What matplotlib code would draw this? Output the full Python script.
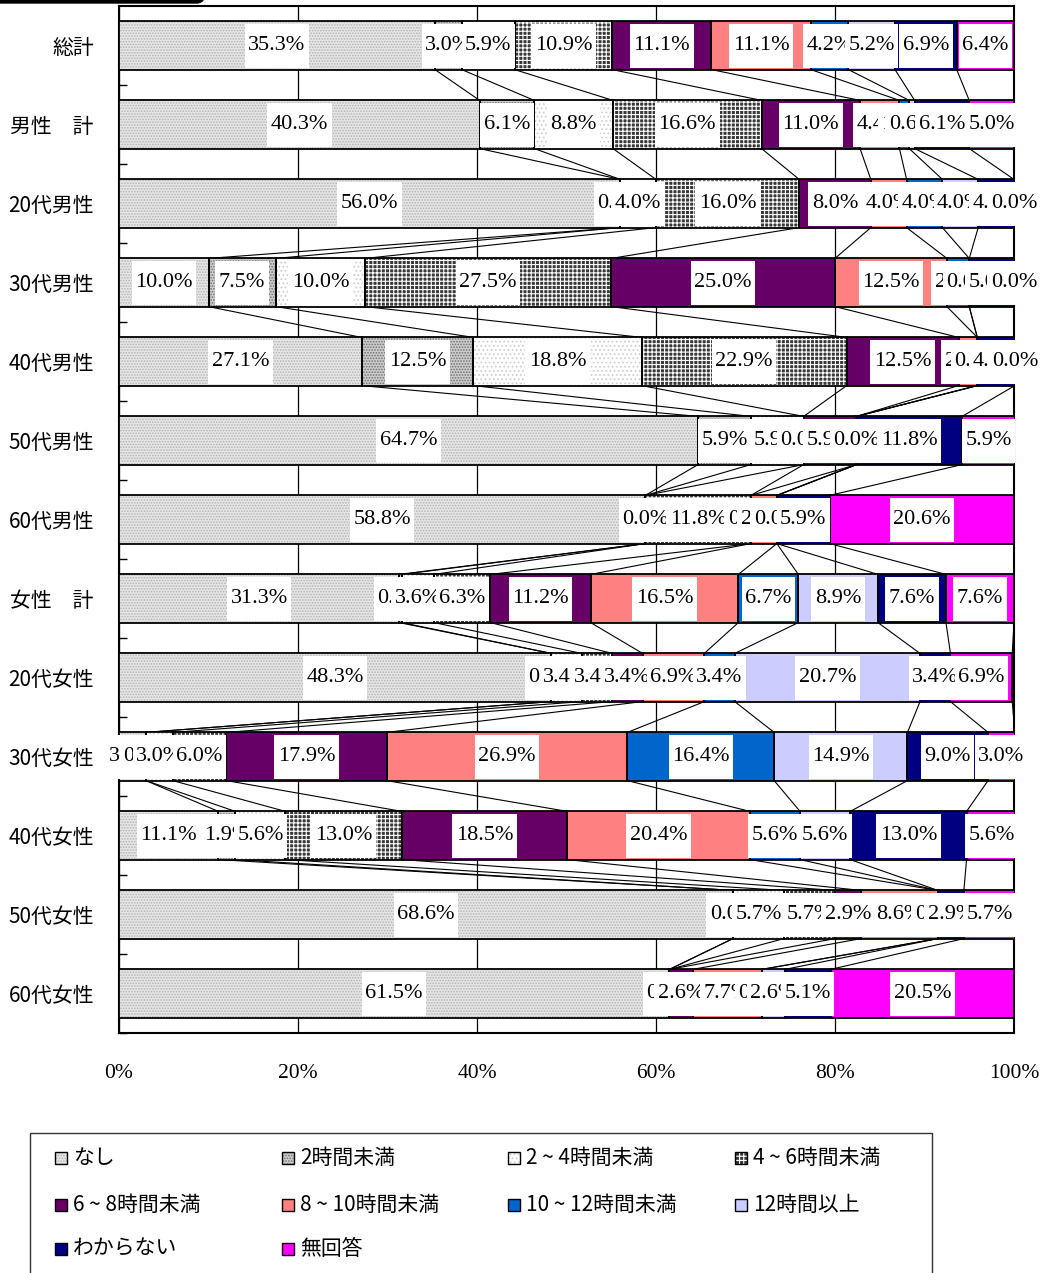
import matplotlib
matplotlib.use("Agg")
import matplotlib.pyplot as plt
import numpy as np
from matplotlib.patches import Rectangle, FancyBboxPatch

# categories (rows, top to bottom)
groups = ["総計", "男性\u3000計", "20代男性", "30代男性", "40代男性", "50代男性", "60代男性",
          "女性\u3000計", "20代女性", "30代女性", "40代女性", "50代女性", "60代女性"]

series_names = ["なし", "2時間未満", "2 ~ 4時間未満", "4 ~ 6時間未満", "6 ~ 8時間未満",
                "8 ~ 10時間未満", "10 ~ 12時間未満", "12時間以上", "わからない", "無回答"]

# values (%) per series, one entry per row
nashi = [35.3, 40.3, 56.0, 10.0, 27.1, 64.7, 58.8, 31.3, 48.3, 3.0, 11.1, 68.6, 61.5]
u2h = [3.0, 6.1, 0.0, 7.5, 12.5, 5.9, 0.0, 0.3, 0.0, 0.0, 1.9, 0.0, 0.0]
h2_4 = [5.9, 8.8, 4.0, 10.0, 18.8, 5.9, 0.0, 3.6, 3.4, 3.0, 5.6, 5.7, 0.0]
h4_6 = [10.9, 16.6, 16.0, 27.5, 22.9, 0.0, 11.8, 6.3, 3.4, 6.0, 13.0, 5.7, 0.0]
h6_8 = [11.1, 11.0, 8.0, 25.0, 12.5, 5.9, 0.0, 11.2, 3.4, 17.9, 18.5, 2.9, 2.6]
h8_10 = [11.1, 4.4, 4.0, 12.5, 2.1, 0.0, 2.9, 16.5, 6.9, 26.9, 20.4, 8.6, 7.7]
h10_12 = [4.2, 1.1, 4.0, 2.5, 0.0, 0.0, 0.0, 6.7, 3.4, 16.4, 5.6, 0.0, 0.0]
h12 = [5.2, 0.6, 4.0, 0.0, 0.0, 0.0, 0.0, 8.9, 20.7, 14.9, 5.6, 0.0, 2.6]
unknown = [6.9, 6.1, 4.0, 5.0, 4.2, 11.8, 5.9, 7.6, 3.4, 9.0, 13.0, 2.9, 5.1]
noans = [6.4, 5.0, 0.0, 0.0, 0.0, 5.9, 20.6, 7.6, 6.9, 3.0, 5.6, 5.7, 20.5]

xticks = [0, 20, 40, 60, 80, 100]

# face colour, hatch, hatch colour
styles = [
    ("#e6e6e6", "......", "#b4b4b4"),
    ("#cccccc", "......", "#707070"),
    ("#ffffff", "....", "#cfcfcf"),
    ("#383838", "++++", "#ffffff"),
    ("#660066", None, "#660066"),
    ("#ff8080", None, "#ff8080"),
    ("#0066cc", None, "#0066cc"),
    ("#ccccff", None, "#ccccff"),
    ("#000080", None, "#000080"),
    ("#ff00ff", None, "#ff00ff"),
]

CJK = ["Noto Sans CJK JP", "DejaVu Sans"]
SERIF = ["Liberation Serif", "DejaVu Serif"]
plt.rcParams["hatch.linewidth"] = 0.8


def main():
    data = np.array([nashi, u2h, h2_4, h4_6, h6_8, h8_10, h10_12, h12, unknown, noans]).T
    n_rows, n_ser = data.shape
    ends = np.cumsum(data, axis=1)
    starts = ends - data
    y = np.arange(n_rows)
    h = 0.61

    W, H = 1043, 1273
    fig = plt.figure(figsize=(W / 100, H / 100), dpi=100)
    ax = fig.add_axes([119 / W, 1 - 1033 / H, 895 / W, 1027 / H])

    for j in range(n_ser):
        fc, hatch, hc = styles[j]
        ax.barh(y, data[:, j], left=starts[:, j], height=h, color=fc,
                edgecolor=hc, linewidth=0, hatch=hatch, zorder=3)
        ax.barh(y, data[:, j], left=starts[:, j], height=h, fill=False,
                edgecolor="black", linewidth=1.3, zorder=4)

    # series lines between bars
    for j in range(n_ser):
        for i in range(n_rows - 1):
            ax.plot([ends[i, j], ends[i + 1, j]], [i + h / 2, i + 1 - h / 2],
                    color="black", lw=0.8, zorder=2)

    ax.set_xlim(0, 100)
    ax.set_ylim(n_rows - 0.5, -0.5)
    ax.set_xticks(xticks)
    ax.set_xticklabels([f"{v}%" for v in xticks], fontsize=15.5, family=SERIF)
    ax.set_yticks(y)
    ax.set_yticklabels(groups, fontsize=15, family=CJK)
    ax.set_yticks(np.arange(n_rows) + 0.5, minor=True)
    ax.tick_params(axis="x", length=0, pad=22)
    ax.tick_params(axis="y", which="major", length=0, pad=18)
    ax.tick_params(axis="y", which="minor", length=6, direction="in", width=1)
    ax.grid(axis="x", color="black", lw=0.9, zorder=1)
    ax.set_axisbelow(True)
    for s in ax.spines.values():
        s.set_linewidth(1.5)

    # data labels with white boxes
    texts = []
    for i in range(n_rows):
        for j in range(n_ser):
            cx = starts[i, j] + data[i, j] / 2
            t = ax.text(cx, i, f"{data[i, j]:.1f}%", ha="center", va="center",
                        fontsize=16, family=SERIF, zorder=11 + 2 * j)
            texts.append((t, i, j))

    fig.canvas.draw()
    r = fig.canvas.get_renderer()
    inv = ax.transData.inverted()
    bh = 44 / 79.0
    for t, i, j in texts:
        bb = t.get_window_extent(r)
        x0 = inv.transform((bb.x0 - 3.5, 0))[0]
        x1 = inv.transform((bb.x1 + 3.5, 0))[0]
        ax.add_patch(Rectangle((x0, i - bh / 2), x1 - x0, bh, facecolor="white",
                               edgecolor="none", zorder=10 + 2 * j, clip_on=False))

    # title box remnant at top-left
    fig.patches.append(FancyBboxPatch((-10 / W, 1 - 3 / H), 215 / W, 40 / H,
                                      boxstyle="round,pad=0,rounding_size=0.008",
                                      transform=fig.transFigure, facecolor="black",
                                      edgecolor="black"))

    # legend
    fig.patches.append(Rectangle((30 / W, -20 / H), 902 / W, (1273 - 1133 + 20) / H,
                                 transform=fig.transFigure, facecolor="white",
                                 edgecolor="#333333", lw=1))
    col_x = [55, 282, 508, 735]
    row_y = [1158, 1205, 1249]
    for k, name in enumerate(series_names):
        cx = col_x[k % 4]
        cy = row_y[k // 4]
        fc, hatch, hc = styles[k]
        fig.patches.append(Rectangle((cx / W, 1 - (cy + 6) / H), 12 / W, 12 / H,
                                     transform=fig.transFigure, facecolor=fc,
                                     edgecolor=hc, lw=0, hatch=hatch))
        fig.patches.append(Rectangle((cx / W, 1 - (cy + 6) / H), 12 / W, 12 / H,
                                     transform=fig.transFigure, fill=False,
                                     edgecolor="black", lw=1))
        fig.text((cx + 18) / W, 1 - cy / H, name, fontsize=15, family=CJK,
                 ha="left", va="center")

    fig.savefig("out.png", dpi=100)


if __name__ == "__main__":
    main()
